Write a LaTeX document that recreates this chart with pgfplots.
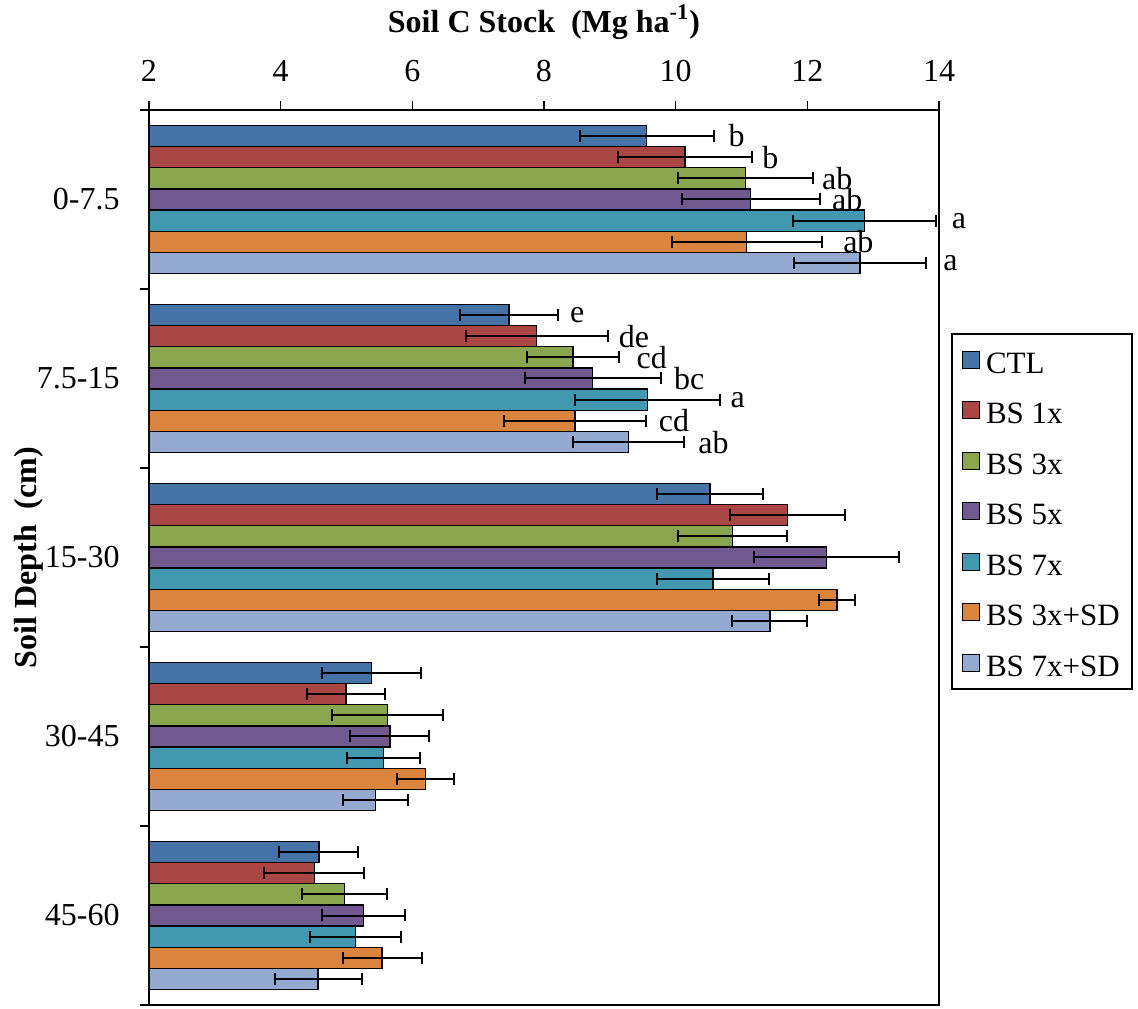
\documentclass[border=0pt]{standalone}
\usepackage{pgfplots}
\usepackage{pgfplotstable}
\pgfplotsset{compat=1.18}
\usepackage{fontspec}
\setmainfont{Liberation Serif}
\definecolor{cCTL}{HTML}{4572A7}
\definecolor{cBSa}{HTML}{AA4643}
\definecolor{cBSb}{HTML}{89A54E}
\definecolor{cBSc}{HTML}{71588F}
\definecolor{cBSd}{HTML}{4198AF}
\definecolor{cBSe}{HTML}{DB843D}
\definecolor{cBSf}{HTML}{93A9CF}

\pgfplotstableread{
x y e
9.56 0 1.02
7.47 1 0.74
10.52 2 0.80
5.38 3 0.745
4.58 4 0.60
}\tCTL
\pgfplotstableread{
x y e
10.14 0 1.02
7.89 1 1.08
11.70 2 0.87
4.99 3 0.59
4.51 4 0.76
}\tBSa
\pgfplotstableread{
x y e
11.06 0 1.03
8.44 1 0.70
10.86 2 0.83
5.62 3 0.84
4.97 4 0.64
}\tBSb
\pgfplotstableread{
x y e
11.14 0 1.05
8.74 1 1.03
12.29 2 1.10
5.66 3 0.60
5.26 4 0.63
}\tBSc
\pgfplotstableread{
x y e
12.87 0 1.09
9.57 1 1.10
10.57 2 0.85
5.56 3 0.55
5.14 4 0.69
}\tBSd
\pgfplotstableread{
x y e
11.08 0 1.14
8.47 1 1.08
12.45 2 0.27
6.20 3 0.44
5.54 4 0.60
}\tBSe
\pgfplotstableread{
x y e
12.80 0 1.01
9.28 1 0.84
11.43 2 0.57
5.44 3 0.50
4.57 4 0.66
}\tBSf

\begin{document}
\begin{tikzpicture}[font=\fontsize{16}{19}\selectfont]
\begin{axis}[
  scale only axis, width=395pt, height=447.5pt,
  xbar, bar width=0.1184,
  xmin=2, xmax=14, xtick={2,4,...,14},
  ymin=-0.5, ymax=4.5, y dir=reverse,
  ytick={0,1,2,3,4},
  yticklabels={0-7.5,7.5-15,15-30,30-45,45-60},
  minor ytick={-0.5,0.5,1.5,2.5,3.5,4.5},
  xtick pos=upper, xticklabel pos=upper,
  ytick pos=left,
  tick align=outside,
  major tick length=4.5pt, minor tick length=4.5pt,
  every major y tick/.append style={draw=none},
  tick style={black, line width=0.8pt},
  axis line style={black, line width=0.8pt},
  /pgf/number format/assume math mode=true,
  yticklabel style={inner sep=0pt, xshift=-10pt},
  xticklabel style={inner sep=0pt, yshift=9.35pt},
  ylabel={\bfseries Soil Depth\ \ (cm)},
  ylabel style={at={(rel axis cs:-0.1520,0.5)}, anchor=center, inner sep=0pt},
  clip mode=individual,
  every axis plot/.append style={draw=black, line width=0.7pt},
  error bars/error bar style={black, line width=1pt},
  error bars/error mark options={black, line width=1pt, mark size=3pt, rotate=90},
  legend style={at={(rel axis cs:1.0152,0.7508)}, anchor=north west,
    draw=black, line width=0.8pt, inner xsep=5pt, inner ysep=4.5pt,
    row sep=8.25pt, cells={anchor=west},
    font=\fontsize{15.5}{18}\selectfont,
    nodes={inner sep=1pt, text height=14.3pt, text depth=0.7pt}},
  legend image code/.code={\draw[#1, draw=black, line width=0.6pt] (0pt,-4.25pt) rectangle (8.5pt,4.25pt);},
]
\addplot[fill=cCTL, bar shift=-0.3552, error bars/.cd, x dir=both, x explicit] table[x=x,y=y,x error=e]{\tCTL};
\addlegendentry{\hspace{2pt}CTL}
\addplot[fill=cBSa, bar shift=-0.2368, error bars/.cd, x dir=both, x explicit] table[x=x,y=y,x error=e]{\tBSa};
\addlegendentry{\hspace{2pt}BS 1x}
\addplot[fill=cBSb, bar shift=-0.1184, error bars/.cd, x dir=both, x explicit] table[x=x,y=y,x error=e]{\tBSb};
\addlegendentry{\hspace{2pt}BS 3x}
\addplot[fill=cBSc, bar shift=0, error bars/.cd, x dir=both, x explicit] table[x=x,y=y,x error=e]{\tBSc};
\addlegendentry{\hspace{2pt}BS 5x}
\addplot[fill=cBSd, bar shift=0.1184, error bars/.cd, x dir=both, x explicit] table[x=x,y=y,x error=e]{\tBSd};
\addlegendentry{\hspace{2pt}BS 7x}
\addplot[fill=cBSe, bar shift=0.2368, error bars/.cd, x dir=both, x explicit] table[x=x,y=y,x error=e]{\tBSe};
\addlegendentry{\hspace{2pt}BS 3x+SD}
\addplot[fill=cBSf, bar shift=0.3552, error bars/.cd, x dir=both, x explicit] table[x=x,y=y,x error=e]{\tBSf};
\addlegendentry{\hspace{2pt}BS 7x+SD}

\tikzset{lab/.style={anchor=west, inner sep=0pt}}
\node[lab] at (axis cs:10.80,-0.3552) {b};
\node[lab] at (axis cs:11.31,-0.2368) {b};
\node[lab] at (axis cs:12.22,-0.1184) {ab};
\node[lab] at (axis cs:12.37,0) {ab};
\node[lab] at (axis cs:14.19,0.1184) {a};
\node[lab] at (axis cs:12.54,0.2368) {ab};
\node[lab] at (axis cs:14.06,0.3552) {a};
\node[lab] at (axis cs:8.39,0.6448) {e};
\node[lab] at (axis cs:9.13,0.7632) {de};
\node[lab] at (axis cs:9.40,0.8816) {cd};
\node[lab] at (axis cs:9.97,1) {bc};
\node[lab] at (axis cs:10.83,1.1184) {a};
\node[lab] at (axis cs:9.74,1.2368) {cd};
\node[lab] at (axis cs:10.34,1.3552) {ab};

\node[anchor=center, inner sep=0pt] at (rel axis cs:0.5,1.0983) {\bfseries Soil C Stock\ \ (Mg ha\textsuperscript{-1})};

\coordinate (bbA) at (rel axis cs:-0.1886,-0.0034);
\coordinate (bbB) at (rel axis cs:1.2519,1.1229);
\end{axis}
\pgfresetboundingbox
\path (bbA) rectangle (bbB);
\end{tikzpicture}
\end{document}
